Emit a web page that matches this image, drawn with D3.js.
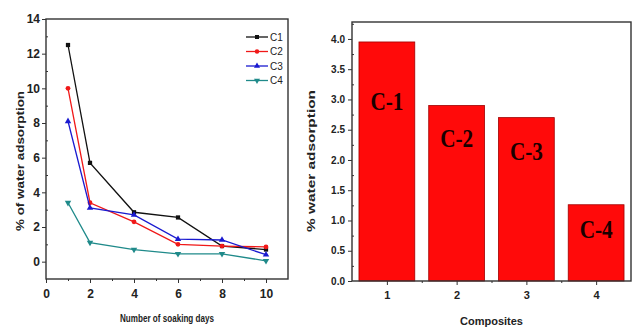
<!DOCTYPE html>
<html>
<head>
<meta charset="utf-8">
<script src="https://cdn.jsdelivr.net/npm/d3@7"></script>
<style>
  body { margin: 0; background: #fff; }
  svg { display: block; }
  .tick text { font-family: "Liberation Sans Narrow", "Liberation Sans", Arial, sans-serif; font-weight: bold; fill: #222; }
  .tick line { stroke: #333; }
</style>
</head>
<body>
<div id="chart"></div>
<script>
// ---- data: left panel (water adsorption vs soaking days)
const days = [1, 2, 4, 6, 8, 10];
const seriesNames = ['C1', 'C2', 'C3', 'C4'];
const c1Values = [12.5, 5.7, 2.85, 2.55, 0.9, 0.7];
const c2Values = [10.0, 3.4, 2.3, 1.0, 0.9, 0.85];
const c3Values = [8.1, 3.1, 2.7, 1.3, 1.25, 0.4];
const c4Values = [3.4, 1.1, 0.7, 0.45, 0.45, 0.05];
const leftXTicks = [0, 2, 4, 6, 8, 10];
const leftYTicks = [0, 2, 4, 6, 8, 10, 12, 14];

// ---- data: right panel (composites)
const composites = [1, 2, 3, 4];
const compositeLabels = ['C-1', 'C-2', 'C-3', 'C-4'];
const adsorption = [3.95, 2.9, 2.7, 1.26];
const labelValues = [2.83, 2.22, 2.0, 0.71];   // where the bar annotation sits (data units)
const rightYTicks = [0, 0.5, 1, 1.5, 2, 2.5, 3, 3.5, 4];

const svgWidth = 637;
const svgHeight = 327;

const svg = d3.select('#chart')
    .append('svg')
    .attr('width', svgWidth)
    .attr('height', svgHeight);

// ================= left panel =================
const left = { x0: 46, x1: 288, y0: 19, y1: 279 };

const xLeft = d3.scaleLinear().domain([0, 11]).range([left.x0, left.x1]);
const yLeft = d3.scaleLinear().domain([-1, 14]).range([left.y1, left.y0]);

const leftG = svg.append('g');

// major ticks
leftG.append('g')
    .attr('transform', `translate(0, ${left.y1})`)
    .call(d3.axisBottom(xLeft).tickValues(leftXTicks).tickSize(4).tickPadding(6))
    .call(g => g.select('.domain').remove())
    .selectAll('text').style('font-size', '12px');
leftG.append('g')
    .attr('transform', `translate(${left.x0}, 0)`)
    .call(d3.axisLeft(yLeft).tickValues(leftYTicks).tickSize(4).tickPadding(2))
    .call(g => g.select('.domain').remove())
    .selectAll('text').style('font-size', '12px');

// minor ticks
leftG.append('g')
    .attr('transform', `translate(0, ${left.y1})`)
    .call(d3.axisBottom(xLeft).tickValues([1, 3, 5, 7, 9]).tickSize(2).tickFormat(''))
    .call(g => g.select('.domain').remove());
leftG.append('g')
    .attr('transform', `translate(${left.x0}, 0)`)
    .call(d3.axisRight(yLeft).tickValues([1, 3, 5, 7, 9, 11, 13]).tickSize(2).tickFormat(''))
    .call(g => g.select('.domain').remove());

// frame
leftG.append('rect')
    .attr('x', left.x0).attr('y', left.y0)
    .attr('width', left.x1 - left.x0).attr('height', left.y1 - left.y0)
    .attr('fill', 'none').attr('stroke', '#333').attr('stroke-width', 1.4);

const series = [
    { name: 'C1', values: c1Values, color: '#111111', symbol: d3.symbolSquare, rot: 0 },
    { name: 'C2', values: c2Values, color: '#f01818', symbol: d3.symbolCircle, rot: 0 },
    { name: 'C3', values: c3Values, color: '#1a1ad0', symbol: d3.symbolTriangle, rot: 0 },
    { name: 'C4', values: c4Values, color: '#1f8a8a', symbol: d3.symbolTriangle, rot: 180 }
];

const line = d3.line()
    .x((d, i) => xLeft(days[i]))
    .y(d => yLeft(d));

series.forEach(s => {
    leftG.append('path')
        .datum(s.values)
        .attr('d', line)
        .attr('fill', 'none')
        .attr('stroke', s.color)
        .attr('stroke-width', 1.3);
    leftG.selectAll(null)
        .data(s.values)
        .enter()
        .append('path')
        .attr('d', d3.symbol().type(s.symbol).size(18))
        .attr('transform', (d, i) => `translate(${xLeft(days[i])}, ${yLeft(d)}) rotate(${s.rot})`)
        .attr('fill', s.color);
});

// legend
const legend = leftG.append('g').attr('transform', 'translate(246, 37)');
series.forEach((s, i) => {
    const row = legend.append('g').attr('transform', `translate(0, ${i * 14.5})`);
    row.append('line').attr('x1', 0).attr('x2', 22).attr('stroke', s.color).attr('stroke-width', 1.3);
    row.append('path')
        .attr('d', d3.symbol().type(s.symbol).size(16))
        .attr('transform', `translate(11, 0) rotate(${s.rot})`)
        .attr('fill', s.color);
    row.append('text')
        .attr('x', 24).attr('y', 3.5)
        .style('font-family', '"Liberation Sans Narrow", "Liberation Sans", sans-serif')
        .style('font-size', '10px')
        .attr('fill', '#222')
        .text(s.name);
});

// axis titles
leftG.append('text')
    .attr('x', (left.x0 + left.x1) / 2).attr('y', 322)
    .attr('text-anchor', 'middle')
    .attr('textLength', 94)
    .attr('lengthAdjust', 'spacingAndGlyphs')
    .style('font-family', '"Liberation Sans Narrow", "Liberation Sans", sans-serif')
    .style('font-size', '10px').style('font-weight', 'bold')
    .attr('fill', '#222')
    .text('Number of soaking days');
leftG.append('text')
    .attr('transform', 'translate(24, 161) rotate(-90)')
    .attr('text-anchor', 'middle')
    .attr('textLength', 140)
    .attr('lengthAdjust', 'spacingAndGlyphs')
    .style('font-family', '"Liberation Sans", sans-serif')
    .style('font-size', '10px').style('font-weight', 'bold')
    .attr('fill', '#222')
    .text('% of water adsorption');

// ================= right panel =================
const right = { x0: 352, x1: 631, y0: 22, y1: 281 };

const xRight = d3.scaleLinear().domain([0.5, 4.5]).range([right.x0, right.x1]);
const yRight = d3.scaleLinear().domain([0, 4.28]).range([right.y1, right.y0]);
const barWidth = xRight(1.4) - xRight(0.6);

const rightG = svg.append('g');

rightG.selectAll('rect.bar')
    .data(adsorption)
    .enter()
    .append('rect')
    .attr('class', 'bar')
    .attr('x', (d, i) => xRight(composites[i]) - barWidth / 2)
    .attr('y', d => yRight(d))
    .attr('width', barWidth)
    .attr('height', d => yRight(0) - yRight(d))
    .attr('fill', '#ff0a0a')
    .attr('stroke', '#a00000')
    .attr('stroke-width', 0.8);

rightG.selectAll('text.barlabel')
    .data(compositeLabels)
    .enter()
    .append('text')
    .attr('class', 'barlabel')
    .attr('x', (d, i) => xRight(composites[i]))
    .attr('y', (d, i) => yRight(labelValues[i]))
    .attr('text-anchor', 'middle')
    .attr('textLength', 33)
    .attr('lengthAdjust', 'spacingAndGlyphs')
    .style('font-family', '"Liberation Serif", "Times New Roman", serif')
    .style('font-size', '25px').style('font-weight', 'bold')
    .attr('fill', '#1a0000')
    .text(d => d);

rightG.append('g')
    .attr('transform', `translate(0, ${right.y1})`)
    .call(d3.axisBottom(xRight).tickValues(composites).tickFormat(d3.format('d')).tickSize(4).tickPadding(6))
    .call(g => g.select('.domain').remove())
    .selectAll('text').style('font-size', '11px').style('font-family', '"Liberation Sans", sans-serif');
rightG.append('g')
    .attr('transform', `translate(0, ${right.y1})`)
    .call(d3.axisBottom(xRight).tickValues([1.5, 2.5, 3.5]).tickSize(2).tickFormat(''))
    .call(g => g.select('.domain').remove());
rightG.append('g')
    .attr('transform', `translate(${right.x0}, 0)`)
    .call(d3.axisLeft(yRight).tickValues(rightYTicks).tickFormat(d3.format('.1f')).tickSize(4).tickPadding(3))
    .call(g => g.select('.domain').remove())
    .selectAll('text').style('font-size', '10px').style('font-family', '"Liberation Sans", sans-serif');
rightG.append('g')
    .attr('transform', `translate(${right.x0}, 0)`)
    .call(d3.axisRight(yRight).tickValues(d3.range(0.25, 4.26, 0.5)).tickSize(2).tickFormat(''))
    .call(g => g.select('.domain').remove());

rightG.append('rect')
    .attr('x', right.x0).attr('y', right.y0)
    .attr('width', right.x1 - right.x0).attr('height', right.y1 - right.y0)
    .attr('fill', 'none').attr('stroke', '#333').attr('stroke-width', 1.4);

rightG.append('text')
    .attr('x', (right.x0 + right.x1) / 2).attr('y', 325)
    .attr('text-anchor', 'middle')
    .style('font-family', '"Liberation Sans", sans-serif')
    .style('font-size', '11px').style('font-weight', 'bold')
    .attr('fill', '#222')
    .text('Composites');
rightG.append('text')
    .attr('transform', 'translate(315, 161) rotate(-90)')
    .attr('text-anchor', 'middle')
    .attr('textLength', 142)
    .attr('lengthAdjust', 'spacingAndGlyphs')
    .style('font-family', '"Liberation Sans", sans-serif')
    .style('font-size', '11px').style('font-weight', 'bold')
    .attr('fill', '#222')
    .text('% water adsorption');
</script>
</body>
</html>
